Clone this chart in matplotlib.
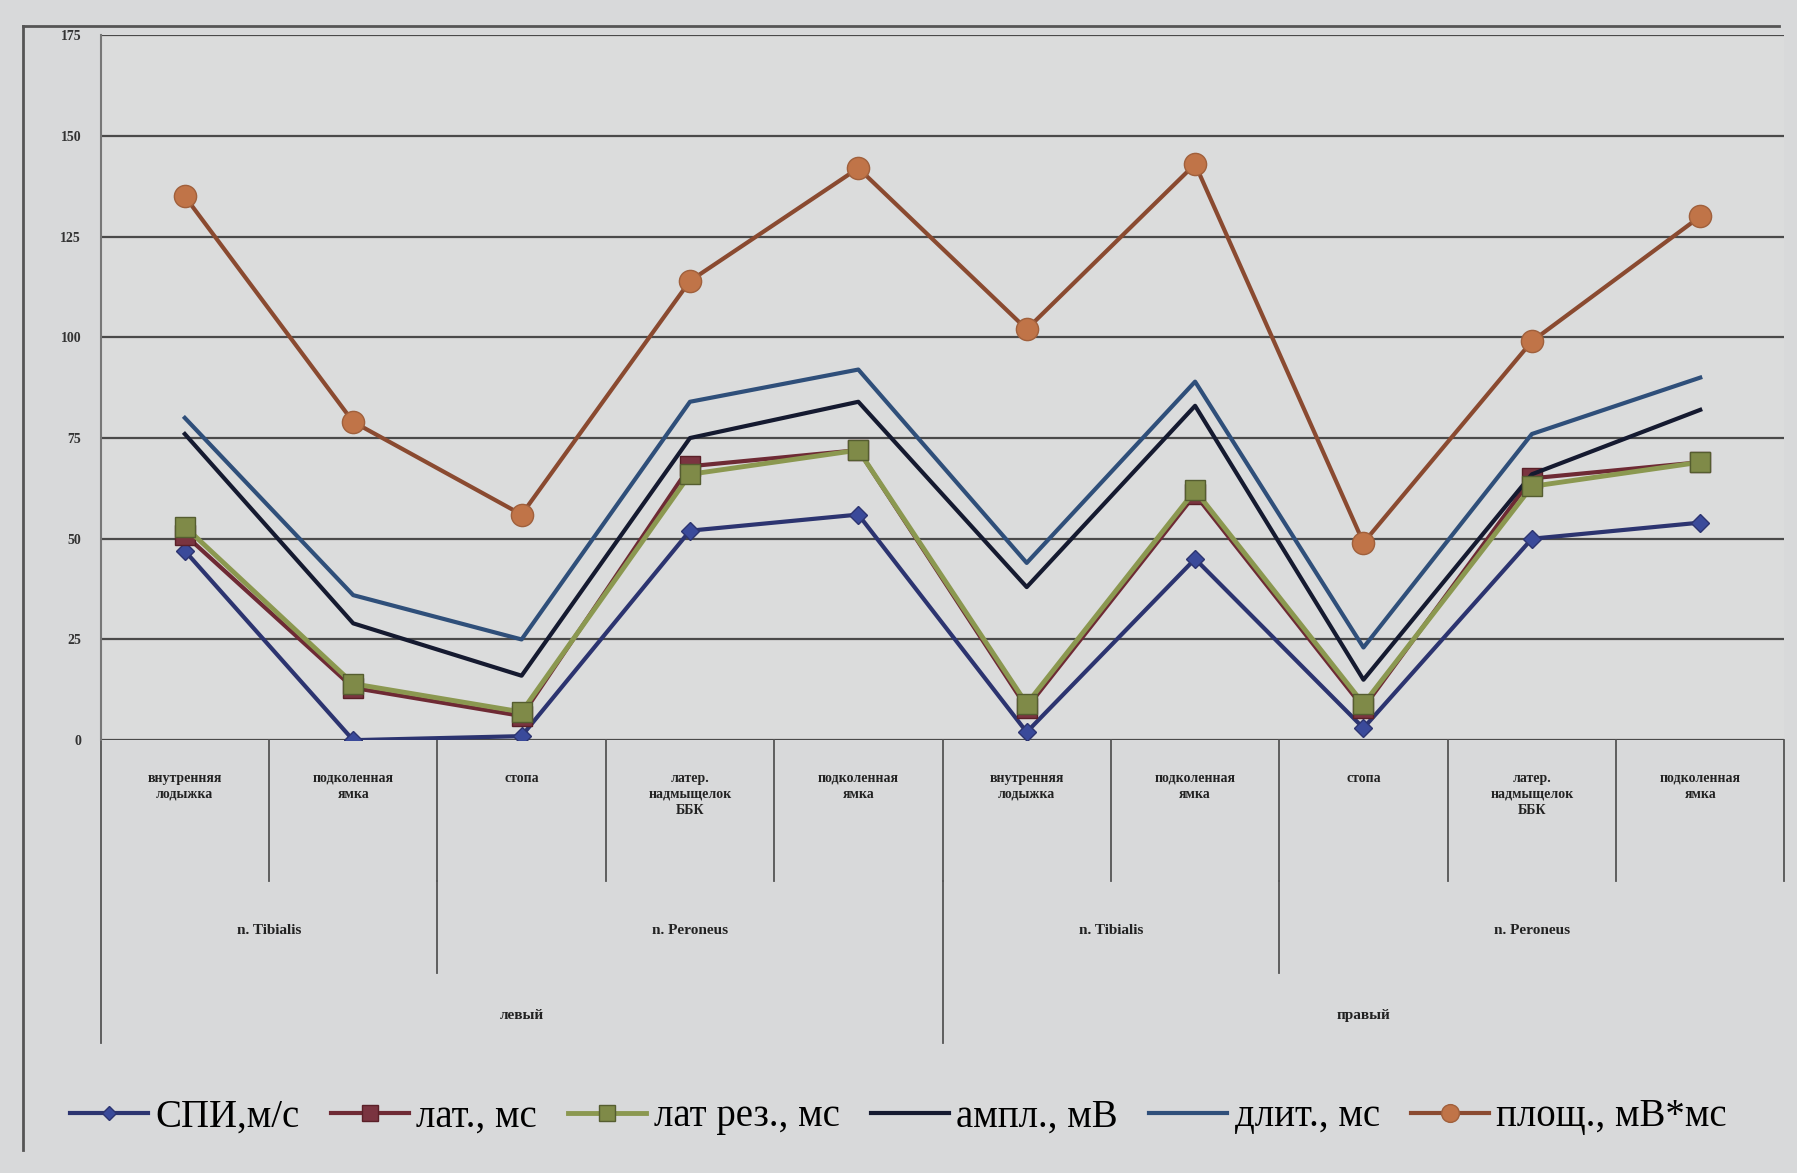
import matplotlib.pyplot as plt
import numpy as np

# категории (нижний уровень оси)
categories = ["внутренняя\nлодыжка", "подколенная\nямка", "стопа",
              "латер.\nнадмыщелок\nББК", "подколенная\nямка",
              "внутренняя\nлодыжка", "подколенная\nямка", "стопа",
              "латер.\nнадмыщелок\nББК", "подколенная\nямка"]
nerves = ["n. Tibialis", "n. Peroneus", "n. Tibialis", "n. Peroneus"]
nerve_span = [(0, 1), (2, 4), (5, 6), (7, 9)]
sides = ["левый", "правый"]
side_span = [(0, 4), (5, 9)]

spi = [47, 0, 1, 52, 56, 2, 45, 3, 50, 54]
lat = [51, 13, 6, 68, 72, 8, 61, 8, 65, 69]
lat_rez = [53, 14, 7, 66, 72, 9, 62, 9, 63, 69]
ampl = [76, 29, 16, 75, 84, 38, 83, 15, 66, 82]
dlit = [80, 36, 25, 84, 92, 44, 89, 23, 76, 90]
plosh = [135, 79, 56, 114, 142, 102, 143, 49, 99, 130]

yticks = [0, 25, 50, 75, 100, 125, 150, 175]

plt.rcParams['font.family'] = ['Liberation Serif', 'DejaVu Serif']

fig = plt.figure(figsize=(17.97, 11.73), dpi=100, facecolor='#d8d9da')
ax = fig.add_axes([0.056, 0.369, 0.937, 0.601])
ax.set_facecolor('#dbdcdc')

x = np.arange(len(categories))
ax.plot(x, spi, color='#2c3470', lw=3, marker='D', ms=9, mfc='#3a4a9a', mec='#2c3470', label='СПИ,м/с', zorder=3)
ax.plot(x, lat, color='#6e2a34', lw=3, marker='s', ms=14, mfc='#7a3440', mec='#5a2028', label='лат., мс', zorder=3)
ax.plot(x, lat_rez, color='#8b9850', lw=3.5, marker='s', ms=15, mfc='#7f8a48', mec='#555d30', label='лат рез., мс', zorder=4)
ax.plot(x, ampl, color='#151a30', lw=3, label='ампл., мВ', zorder=3)
ax.plot(x, dlit, color='#2f4f7a', lw=3, label='длит., мс', zorder=3)
ax.plot(x, plosh, color='#8a4a30', lw=3, marker='o', ms=16, mfc='#c07448', mec='#a0603c', label='площ., мВ*мс', zorder=3)

ax.set_xlim(-0.5, 9.5)
ax.set_ylim(0, 175)
ax.set_yticks(yticks)
ax.set_yticklabels([str(t) for t in yticks], fontsize=10, fontweight='bold', color='#333333')
ax.yaxis.grid(True, color='#4a4a4a', lw=1.6)
ax.set_axisbelow(True)
ax.set_xticks([])
ax.tick_params(axis='y', length=0, pad=14)
for s in ['top', 'right', 'bottom']:
    ax.spines[s].set_visible(False)
ax.spines['left'].set_color('#777777')
ax.spines['left'].set_linewidth(1.5)

tr = ax.get_xaxis_transform()
sep = dict(color='#555555', lw=1.3, clip_on=False)

# подписи категорий
for i, c in enumerate(categories):
    ax.text(i, -0.045, c, transform=tr, ha='center', va='top', fontsize=10,
            fontweight='bold', color='#222222', linespacing=1.3)
for b in range(1, 10):
    ax.plot([b - 0.5, b - 0.5], [0, -0.2], transform=tr, **sep)
ax.plot([-0.5, -0.5], [0, -0.43], transform=tr, **sep)
ax.plot([9.5, 9.5], [0, -0.2], transform=tr, **sep)

for n, (a, b) in zip(nerves, nerve_span):
    ax.text((a + b) / 2, -0.27, n, transform=tr, ha='center', va='center',
            fontsize=11, fontweight='bold', color='#222222')
for b in [1.5, 6.5]:
    ax.plot([b, b], [-0.2, -0.33], transform=tr, **sep)
for s, (a, b) in zip(sides, side_span):
    ax.text((a + b) / 2, -0.39, s, transform=tr, ha='center', va='center',
            fontsize=11, fontweight='bold', color='#222222')
ax.plot([4.5, 4.5], [-0.2, -0.43], transform=tr, **sep)

# рамка диаграммы
fig.add_artist(plt.Line2D([0.013, 0.013], [0.02, 0.978], color='#555555', lw=2))
fig.add_artist(plt.Line2D([0.013, 0.99], [0.978, 0.978], color='#555555', lw=2))

fig.legend(loc='center', bbox_to_anchor=(0.5, 0.048), ncol=6, frameon=False,
           fontsize=28, handlelength=2.0, handletextpad=0.2, columnspacing=0.8,
           markerscale=0.8)

fig.savefig('out.png', dpi=100, facecolor=fig.get_facecolor())
